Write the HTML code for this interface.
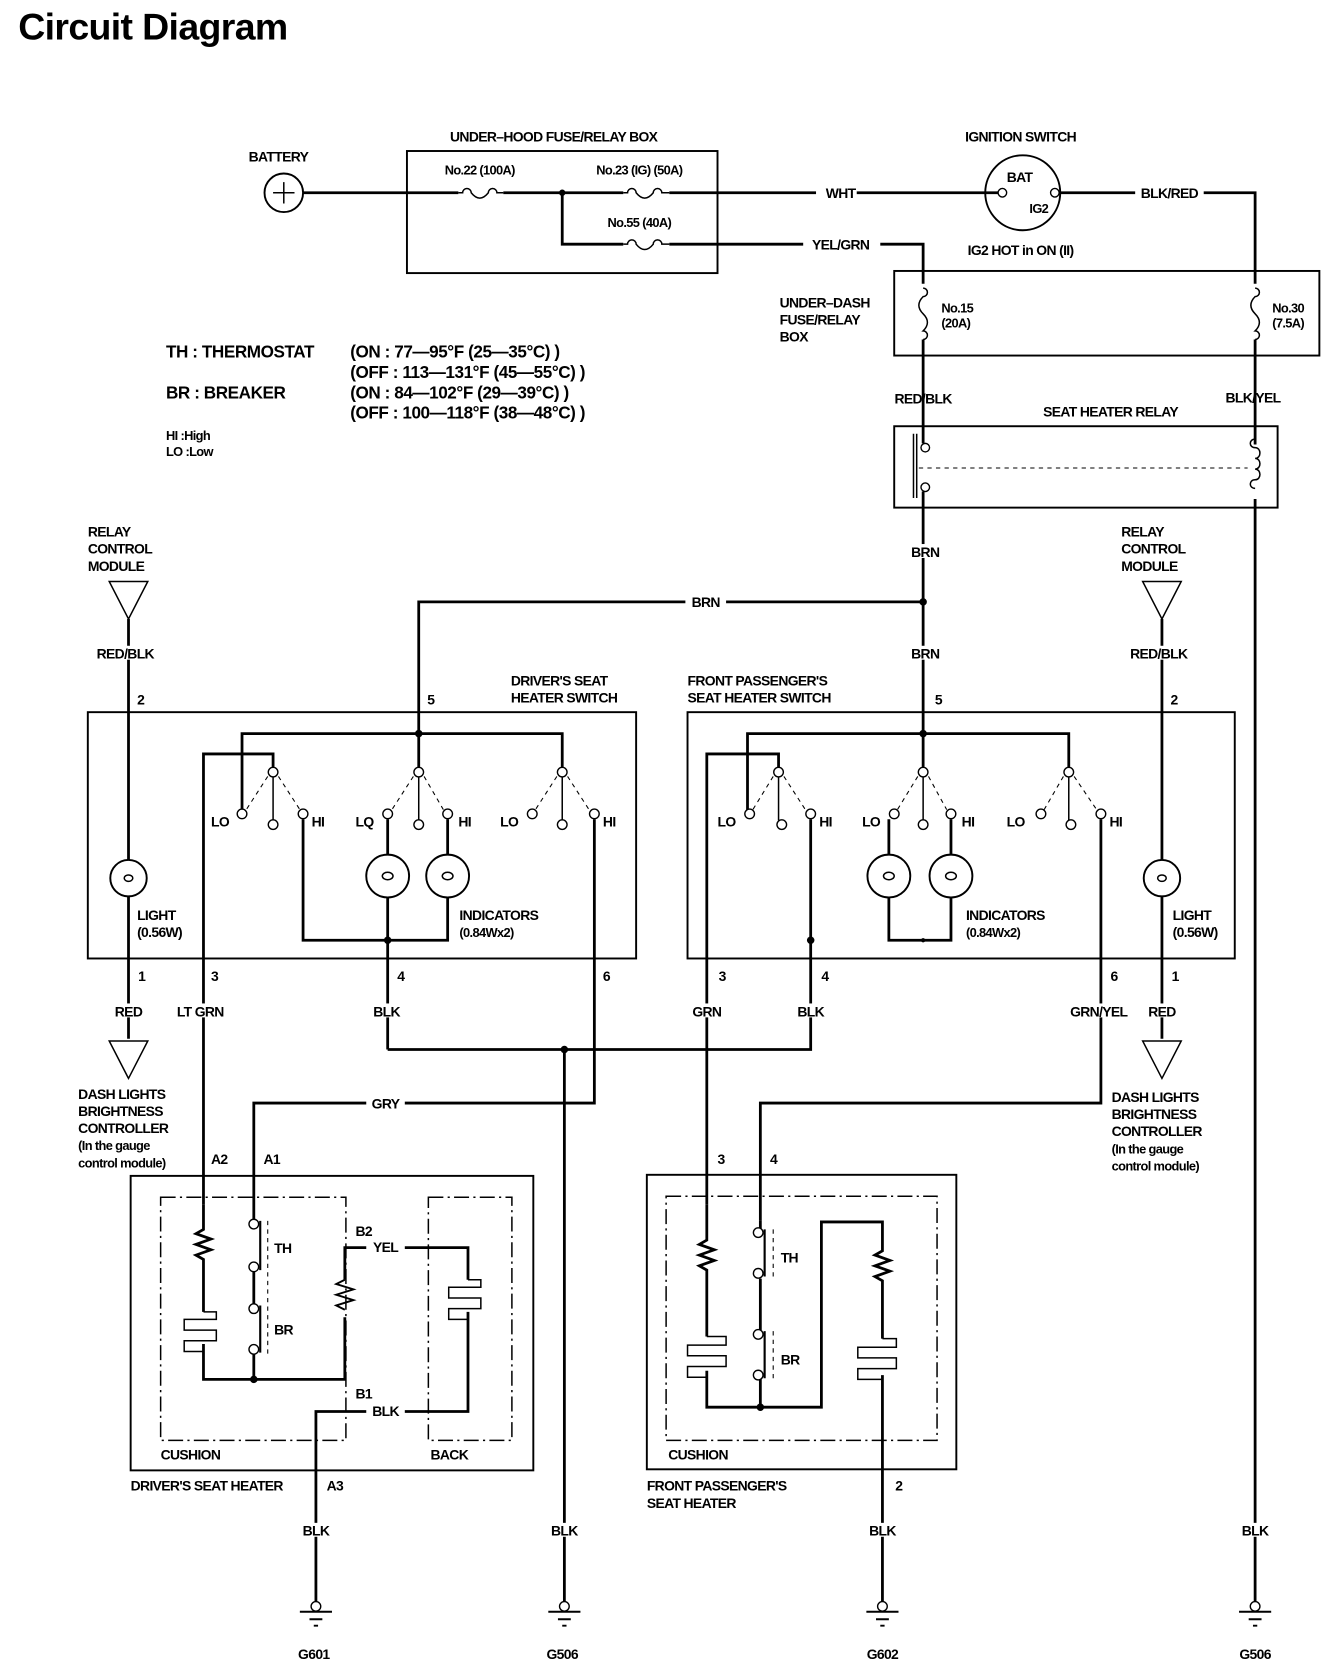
<!DOCTYPE html>
<html><head><meta charset="utf-8"><style>
html,body{margin:0;padding:0;background:#fff;}
svg{display:block;}
text{font-family:"Liberation Sans",sans-serif;font-weight:bold;fill:#000;}
.l{font-size:13px;letter-spacing:-0.6px;}
.m{font-size:12px;letter-spacing:-0.6px;}
.c{text-anchor:middle;}
.w{stroke:#000;stroke-width:2.6;fill:none;}
.t{stroke:#000;stroke-width:1.4;fill:none;}
.d{stroke:#000;stroke-width:1;fill:none;stroke-dasharray:4,4;}
.dd{stroke:#000;stroke-width:1.4;fill:none;stroke-dasharray:14,4,2,4;}
.o{stroke:#000;stroke-width:1.3;fill:#fff;}
.bg{fill:#fff;stroke:none;}
.g{font-size:16px;letter-spacing:-0.4px;}
</style></head><body>
<svg width="1344" height="1676" viewBox="0 0 1255 1565" xmlns="http://www.w3.org/2000/svg">
<text x="17" y="37" style="font-size:35px;letter-spacing:-0.6px">Circuit Diagram</text>

<!-- TOP -->
<text class="l c" x="260" y="151">BATTERY</text>
<circle cx="265" cy="180" r="18" class="t" style="stroke-width:1.8"/>
<path d="M255 180h20M265 170v20" class="t"/>
<text class="l c" x="517" y="132">UNDER–HOOD FUSE/RELAY BOX</text>
<rect x="380" y="141" width="290" height="114" class="t" style="stroke-width:1.8"/>
<path d="M283 180H428M470 180H582M625 180H762M800 180H936" class="w"/>
<text class="l c" x="785" y="185">WHT</text>
<text class="m c" x="448" y="163">No.22 (100A)</text>
<text class="m c" x="597" y="163">No.23 (IG) (50A)</text>
<text class="m c" x="597" y="212">No.55 (40A)</text>
<path d="M428 180h4a4 4 0 0 1 8 0q8 10 16 0a4 4 0 0 1 8 0h6" class="t"/>
<path d="M582 180h4a4 4 0 0 1 8 0q8 10 16 0a4 4 0 0 1 8 0h7" class="t"/>
<path d="M582 228h4a4 4 0 0 1 8 0q8 10 16 0a4 4 0 0 1 8 0h7" class="t"/>
<circle cx="525" cy="180" r="3"/>
<path d="M525 180V228H582M625 228H750M822 228H862V265" class="w"/>
<text class="l c" x="785" y="233">YEL/GRN</text>
<text class="l c" x="953" y="132">IGNITION SWITCH</text>
<circle cx="955" cy="180" r="35" class="t" style="stroke-width:1.8"/>
<circle cx="936" cy="180" r="4" class="o"/><circle cx="985" cy="180" r="4" class="o"/>
<text class="l c" x="952" y="170">BAT</text><text class="m c" x="970" y="199">IG2</text>
<text class="l c" x="953" y="238">IG2 HOT in ON (II)</text>
<path d="M989 180H1060M1124 180H1172V265" class="w"/>
<text class="l c" x="1092" y="185">BLK/RED</text>

<!-- under-dash -->
<rect x="835" y="253" width="397" height="79" class="t" style="stroke-width:1.8"/>
<text class="l" x="728" y="287">UNDER–DASH</text><text class="l" x="728" y="303">FUSE/RELAY</text><text class="l" x="728" y="319">BOX</text>
<path d="M862 269a4 4 0 0 1 0 8q-8 8 0 16q8 8 0 16a4 4 0 0 1 0 8" class="t"/>
<path d="M1172 269a4 4 0 0 1 0 8q-8 8 0 16q8 8 0 16a4 4 0 0 1 0 8" class="t"/>
<text class="m" x="879" y="292">No.15</text><text class="m" x="879" y="306">(20A)</text>
<text class="m" x="1188" y="292">No.30</text><text class="m" x="1188" y="306">(7.5A)</text>
<path d="M862 317V414M1172 317V415" class="w"/>
<text class="l c" x="862" y="377">RED/BLK</text><text class="l c" x="1170" y="376">BLK/YEL</text>
<text class="l c" x="1037" y="389">SEAT HEATER RELAY</text>
<rect x="835" y="398" width="358" height="76" class="t" style="stroke-width:1.8"/>
<circle cx="864" cy="418" r="4" class="o"/><circle cx="864" cy="455" r="4" class="o"/>
<path d="M853 405V465M856 405V465" class="t"/>
<path d="M858 437H1165" class="d"/>
<path d="M1172 410c-6 0-6 8 0 8c6 0 6 10 0 10c6 0 6 10 0 10c6 0 6 10 0 10c-6 0-6 8 0 8" class="t"/>
<path d="M862 459V685M1172 466V1496" class="w"/>
<circle cx="862" cy="562" r="3.5"/>
<path d="M391 685V562H640M678 562H862" class="w"/>
<text class="l c" x="659" y="567">BRN</text>
<rect x="850" y="508" width="26" height="13" class="bg"/><text class="l c" x="864" y="520">BRN</text>
<rect x="850" y="603" width="26" height="13" class="bg"/><text class="l c" x="864" y="615">BRN</text>

<!-- legend -->
<text class="g" x="155" y="334">TH : THERMOSTAT</text>
<text class="g" x="327" y="334">(ON : 77—95°F (25—35°C) )</text>
<text class="g" x="327" y="353">(OFF : 113—131°F (45—55°C) )</text>
<text class="g" x="155" y="372">BR : BREAKER</text>
<text class="g" x="327" y="372">(ON : 84—102°F (29—39°C) )</text>
<text class="g" x="327" y="391">(OFF : 100—118°F (38—48°C) )</text>
<text class="m" x="155" y="411">HI  :High</text><text class="m" x="155" y="426">LO  :Low</text>

<!-- left relay control module -->
<text class="l" x="82" y="501">RELAY</text><text class="l" x="82" y="517">CONTROL</text><text class="l" x="82" y="533">MODULE</text>
<path d="M102 543H138L120 578Z" class="t"/>
<path d="M120 578V970" class="w"/>
<rect x="92" y="603" width="56" height="13" class="bg"/><text class="l c" x="117" y="615">RED/BLK</text>
<text class="l" x="128" y="658">2</text><text class="l" x="399" y="658">5</text>
<text class="l" x="477" y="640">DRIVER'S SEAT</text><text class="l" x="477" y="656">HEATER SWITCH</text>
<rect x="82" y="665" width="512" height="230" class="t" style="stroke-width:1.8"/>
<circle cx="120" cy="820" r="17" class="o" style="stroke-width:1.8"/><ellipse cx="120" cy="820" rx="4" ry="3" class="t"/>
<text class="l" x="128" y="859">LIGHT</text><text class="l" x="128" y="875">(0.56W)</text>
<text class="l" x="129" y="916">1</text>
<rect x="105" y="937" width="30" height="13" class="bg"/><text class="l c" x="120" y="949">RED</text>
<path d="M102 972H138L120 1007Z" class="t"/>
<text class="l" x="73" y="1026">DASH LIGHTS</text><text class="l" x="73" y="1042">BRIGHTNESS</text><text class="l" x="73" y="1058">CONTROLLER</text>
<text class="m" x="73" y="1074">(In the gauge</text><text class="m" x="73" y="1090">control module)</text>

<!-- driver switch internals -->
<path d="M226 756V685H525V717M391 685V717" class="w"/>
<circle cx="391" cy="685" r="3.5"/>
<path d="M190 1125V704H255V717" class="w"/>
<path d="M255 725V766M391 725V766M525 725V766" class="t"/>
<path d="M250 725L230 756M260 725L280 756M386 725L366 756M396 725L414 756M520 725L500 756M530 725L550 756" class="d"/>
<g class="o">
<circle cx="255" cy="721" r="4.5"/><circle cx="226" cy="760" r="4.5"/><circle cx="255" cy="770" r="4.5"/><circle cx="283" cy="760" r="4.5"/>
<circle cx="391" cy="721" r="4.5"/><circle cx="362" cy="760" r="4.5"/><circle cx="391" cy="770" r="4.5"/><circle cx="418" cy="760" r="4.5"/>
<circle cx="525" cy="721" r="4.5"/><circle cx="497" cy="760" r="4.5"/><circle cx="525" cy="770" r="4.5"/><circle cx="555" cy="760" r="4.5"/>
</g>
<text class="l" x="197" y="772">LO</text><text class="l" x="291" y="772">HI</text>
<text class="l" x="332" y="772">LQ</text><text class="l" x="428" y="772">HI</text>
<text class="l" x="467" y="772">LO</text><text class="l" x="563" y="772">HI</text>
<path d="M283 765V878H418V765M362 765V980M555 765V1030H378M342 1030H237V1140" class="w"/>
<circle cx="362" cy="878" r="3.5"/>
<circle cx="362" cy="818" r="20" class="o" style="stroke-width:1.8"/><ellipse cx="362" cy="818" rx="5" ry="3.5" class="t"/>
<circle cx="418" cy="818" r="20" class="o" style="stroke-width:1.8"/><ellipse cx="418" cy="818" rx="5" ry="3.5" class="t"/>
<text class="l" x="429" y="859">INDICATORS</text><text class="m" x="429" y="875">(0.84Wx2)</text>
<text class="l" x="197" y="916">3</text><text class="l" x="371" y="916">4</text><text class="l" x="563" y="916">6</text>
<rect x="164" y="937" width="46" height="13" class="bg"/><text class="l c" x="187" y="949">LT GRN</text>
<rect x="348" y="937" width="26" height="13" class="bg"/><text class="l c" x="361" y="949">BLK</text>
<text class="l c" x="360" y="1035">GRY</text>
<path d="M362 980H757V765" class="w"/>
<circle cx="527" cy="980" r="3.5"/>
<path d="M527 980V1496" class="w"/>

<!-- passenger switch -->
<text class="l" x="642" y="640">FRONT PASSENGER'S</text><text class="l" x="642" y="656">SEAT HEATER SWITCH</text>
<text class="l" x="873" y="658">5</text>
<rect x="642" y="665" width="511" height="230" class="t" style="stroke-width:1.8"/>
<path d="M698 756V685H998V717M862 685V717" class="w"/>
<circle cx="862" cy="685" r="3.5"/>
<path d="M660 1125V704H727V717" class="w"/>
<path d="M727 725V766M862 725V766M998 725V766" class="t"/>
<path d="M722 725L703 756M732 725L752 756M857 725L838 756M867 725L884 756M993 725L975 756M1003 725L1024 756" class="d"/>
<g class="o">
<circle cx="727" cy="721" r="4.5"/><circle cx="700" cy="760" r="4.5"/><circle cx="730" cy="770" r="4.5"/><circle cx="757" cy="760" r="4.5"/>
<circle cx="862" cy="721" r="4.5"/><circle cx="835" cy="760" r="4.5"/><circle cx="862" cy="770" r="4.5"/><circle cx="888" cy="760" r="4.5"/>
<circle cx="998" cy="721" r="4.5"/><circle cx="972" cy="760" r="4.5"/><circle cx="1000" cy="770" r="4.5"/><circle cx="1028" cy="760" r="4.5"/>
</g>
<text class="l" x="670" y="772">LO</text><text class="l" x="765" y="772">HI</text>
<text class="l" x="805" y="772">LO</text><text class="l" x="898" y="772">HI</text>
<text class="l" x="940" y="772">LO</text><text class="l" x="1036" y="772">HI</text>
<path d="M830 765V878H888V765M1028 765V1030H710V1140" class="w"/>
<circle cx="757" cy="878" r="3.5"/><circle cx="862" cy="878" r="2"/>
<circle cx="830" cy="818" r="20" class="o" style="stroke-width:1.8"/><ellipse cx="830" cy="818" rx="5" ry="3.5" class="t"/>
<circle cx="888" cy="818" r="20" class="o" style="stroke-width:1.8"/><ellipse cx="888" cy="818" rx="5" ry="3.5" class="t"/>
<text class="l" x="902" y="859">INDICATORS</text><text class="m" x="902" y="875">(0.84Wx2)</text>
<text class="l" x="671" y="916">3</text><text class="l" x="767" y="916">4</text><text class="l" x="1037" y="916">6</text>
<rect x="646" y="937" width="28" height="13" class="bg"/><text class="l c" x="660" y="949">GRN</text>
<rect x="744" y="937" width="26" height="13" class="bg"/><text class="l c" x="757" y="949">BLK</text>
<rect x="998" y="937" width="56" height="13" class="bg"/><text class="l c" x="1026" y="949">GRN/YEL</text>

<!-- right relay control module -->
<text class="l" x="1047" y="501">RELAY</text><text class="l" x="1047" y="517">CONTROL</text><text class="l" x="1047" y="533">MODULE</text>
<path d="M1067 543H1103L1085 578Z" class="t"/>
<path d="M1085 578V970" class="w"/>
<rect x="1057" y="603" width="56" height="13" class="bg"/><text class="l c" x="1082" y="615">RED/BLK</text>
<text class="l" x="1093" y="658">2</text>
<circle cx="1085" cy="820" r="17" class="o" style="stroke-width:1.8"/><ellipse cx="1085" cy="820" rx="4" ry="3" class="t"/>
<text class="l" x="1095" y="859">LIGHT</text><text class="l" x="1095" y="875">(0.56W)</text>
<text class="l" x="1094" y="916">1</text>
<rect x="1071" y="937" width="28" height="13" class="bg"/><text class="l c" x="1085" y="949">RED</text>
<path d="M1067 972H1103L1085 1007Z" class="t"/>
<text class="l" x="1038" y="1029">DASH LIGHTS</text><text class="l" x="1038" y="1045">BRIGHTNESS</text><text class="l" x="1038" y="1061">CONTROLLER</text>
<text class="m" x="1038" y="1077">(In the gauge</text><text class="m" x="1038" y="1093">control module)</text>

<!-- driver heater -->
<text class="l" x="197" y="1087">A2</text><text class="l" x="246" y="1087">A1</text>
<rect x="122" y="1098" width="376" height="275" class="t" style="stroke-width:1.8"/>
<rect x="150" y="1118" width="173" height="227" class="dd"/>
<rect x="400" y="1118" width="78" height="227" class="dd"/>
<path d="M190 1125V1148l-7 4 14 5-14 5 14 5-14 5 7 4V1225M190 1255V1288H322V1230M322 1195V1165H342M378 1165H437V1195M437 1225V1318H378M342 1318H295V1496" class="w"/>
<path d="M322 1195l-8 4 16 5-16 5 16 5-16 5 8 4" class="w" style="stroke-width:1.8"/>
<path d="M190 1225h12v7h-30v10h30v10h-30v10h18" class="t"/>
<path d="M437 1195h12v7h-30v10h30v10h-30v10h18" class="t"/>
<path d="M237 1140V1143M237 1187V1218M237 1264V1288" class="w"/>
<circle cx="237" cy="1288" r="3.5"/>
<circle cx="237" cy="1143" r="4.5" class="o"/><circle cx="237" cy="1183" r="4.5" class="o"/>
<circle cx="237" cy="1222" r="4.5" class="o"/><circle cx="237" cy="1260" r="4.5" class="o"/>
<path d="M243 1140V1186M243 1219V1263" class="w" style="stroke-width:2"/>
<path d="M250 1140V1264" class="d"/>
<text class="l" x="256" y="1170">TH</text><text class="l" x="256" y="1246">BR</text>
<text class="l" x="332" y="1154">B2</text><text class="l c" x="360" y="1169">YEL</text>
<text class="l" x="332" y="1306">B1</text><text class="l c" x="360" y="1322">BLK</text>
<text class="l" x="150" y="1363">CUSHION</text><text class="l" x="402" y="1363">BACK</text>
<text class="l" x="122" y="1392">DRIVER'S SEAT HEATER</text><text class="l" x="305" y="1392">A3</text>

<!-- passenger heater -->
<text class="l" x="670" y="1087">3</text><text class="l" x="719" y="1087">4</text>
<rect x="604" y="1097" width="289" height="275" class="t" style="stroke-width:1.8"/>
<rect x="622" y="1117" width="253" height="228" class="dd"/>
<path d="M660 1125V1158l-7 4 14 5-14 5 14 5-14 5 7 4V1248M660 1280V1314H767V1141H824V1168l-7 4 14 5-14 5 14 5-14 5 7 4V1250M824 1284V1496" class="w"/>
<path d="M660 1248h18v8h-36v10h36v10h-36v10h18" class="t"/>
<path d="M824 1250h13v8h-36v10h36v10h-36v10h23" class="t"/>
<path d="M710 1140V1147M710 1194V1242M710 1288V1314" class="w"/>
<circle cx="710" cy="1314" r="3.5"/>
<circle cx="708" cy="1151" r="4.5" class="o"/><circle cx="708" cy="1189" r="4.5" class="o"/>
<circle cx="708" cy="1246" r="4.5" class="o"/><circle cx="708" cy="1284" r="4.5" class="o"/>
<path d="M714 1148V1192M714 1243V1287" class="w" style="stroke-width:2"/>
<path d="M722 1148V1192M722 1243V1287" class="d"/>
<text class="l" x="729" y="1179">TH</text><text class="l" x="729" y="1274">BR</text>
<text class="l" x="624" y="1363">CUSHION</text>
<text class="l" x="604" y="1392">FRONT PASSENGER'S</text><text class="l" x="604" y="1408">SEAT HEATER</text>
<text class="l" x="836" y="1392">2</text>

<!-- grounds -->
<rect x="280" y="1422" width="30" height="13" class="bg"/><text class="l c" x="295" y="1434">BLK</text>
<rect x="512" y="1422" width="30" height="13" class="bg"/><text class="l c" x="527" y="1434">BLK</text>
<rect x="809" y="1422" width="30" height="13" class="bg"/><text class="l c" x="824" y="1434">BLK</text>
<rect x="1157" y="1422" width="30" height="13" class="bg"/><text class="l c" x="1172" y="1434">BLK</text>
<g class="t">
<circle cx="295" cy="1500" r="4.5" class="o"/><path d="M280 1505H310M289 1512H301M293 1518H297" style="stroke-width:1.8"/>
<circle cx="527" cy="1500" r="4.5" class="o"/><path d="M512 1505H542M521 1512H533M525 1518H529" style="stroke-width:1.8"/>
<circle cx="824" cy="1500" r="4.5" class="o"/><path d="M809 1505H839M818 1512H830M822 1518H826" style="stroke-width:1.8"/>
<circle cx="1172" cy="1500" r="4.5" class="o"/><path d="M1157 1505H1187M1166 1512H1178M1170 1518H1174" style="stroke-width:1.8"/>
</g>
<text class="l c" x="293" y="1549">G601</text><text class="l c" x="525" y="1549">G506</text>
<text class="l c" x="824" y="1549">G602</text><text class="l c" x="1172" y="1549">G506</text>
</svg>
</body></html>
